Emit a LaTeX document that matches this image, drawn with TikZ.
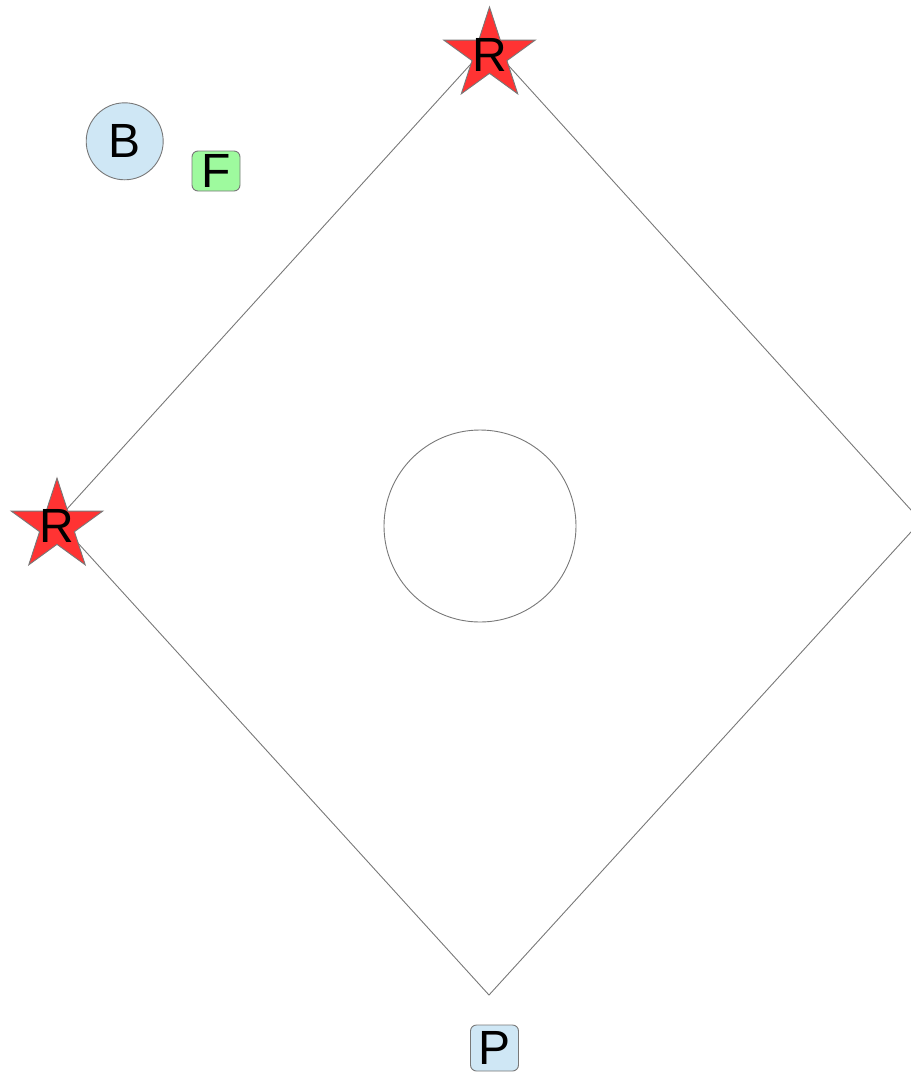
\documentclass[tikz,border=0pt]{standalone}
\usepackage{fontspec}
\setmainfont{Liberation Sans}
\usetikzlibrary{shapes.geometric}
\definecolor{starred}{RGB}{255,51,51}
\definecolor{lightblue}{RGB}{207,231,245}
\definecolor{lightgreen}{RGB}{158,250,158}
\definecolor{edgegray}{RGB}{120,120,120}
\tikzset{
  edgeline/.style={draw=edgegray, line width=0.9pt},
  redstar/.style={star, star points=5, star point ratio=2.618, minimum size=96pt, inner sep=0pt, fill=starred, draw=edgegray, line width=0.9pt},
  lbl/.style={font=\fontsize{48}{48}\selectfont, inner sep=0pt, text=black},
  roundbox/.style={draw=edgegray, line width=0.9pt, rounded corners=6pt, inner sep=0pt},
}
\begin{document}
\begin{tikzpicture}[x=1pt,y=-1pt]
\useasboundingbox (0,0) rectangle (911,1072);
\clip (0,0) rectangle (911,1072);
% diamond corners
\coordinate (top) at (489,44);
\coordinate (right) at (921,521);
\coordinate (bottom) at (489,995);
\coordinate (left) at (57,520);
\draw[edgeline] (top) -- (right) -- (bottom) -- (left) -- cycle;
% centre circle
\node[draw=edgegray, line width=0.9pt, circle, minimum size=192pt, inner sep=0pt] (centre) at (480,526) {};
% stars
\node[redstar] (star1) at (489.5,55) {};
\node[lbl] (r1) at (star1.center) {R};
\node[redstar] (star2) at (57,526) {};
\node[lbl] (r2) at (star2.center) {R};
% B
\node[circle, fill=lightblue, draw=edgegray, line width=0.9pt, minimum size=77pt, inner sep=0pt] (bcirc) at (124.7,141.3) {};
\node[lbl] (blab) at (bcirc.center) {B};
% F
\node[roundbox, fill=lightgreen, minimum width=48pt, minimum height=40pt] (fbox) at (216,171) {};
\node[lbl] (flab) at (fbox.center) {F};
% P
\node[roundbox, fill=lightblue, minimum width=48pt, minimum height=46pt] (pbox) at (494.5,1048) {};
\node[lbl] (plab) at (pbox.center) {P};
\end{tikzpicture}
\end{document}
